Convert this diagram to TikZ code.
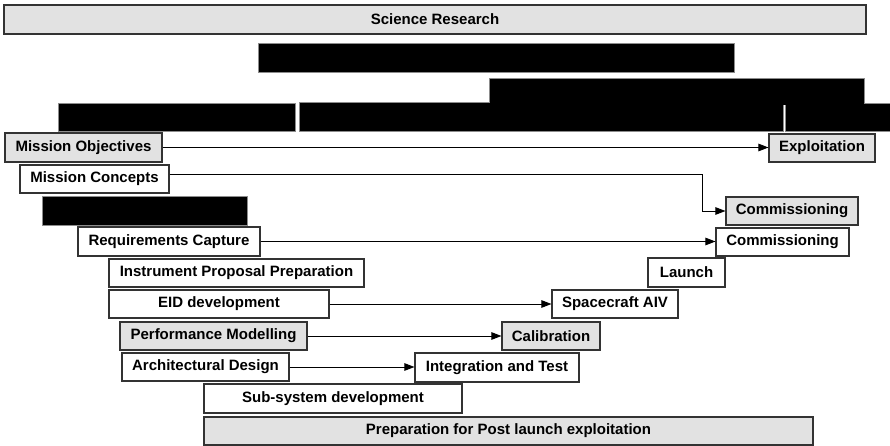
\documentclass[tikz,border=0pt]{standalone}
\usepackage{fontspec}
\setmainfont{Liberation Sans}
\usetikzlibrary{arrows.meta, positioning}
\definecolor{stone}{HTML}{E2E2E2}
\definecolor{edge}{HTML}{333333}
\definecolor{bargray}{HTML}{8C8C8C}

\begin{document}
\begin{tikzpicture}[x=1pt, y=-1pt,
  phase/.style={draw=edge, line width=1.1pt, fill=white, inner sep=0pt,
    font=\fontsize{15}{18}\selectfont\bfseries},
  stonebox/.style={phase, fill=stone},
  hidden/.style={draw=bargray, line width=0.8pt, fill=black, inner sep=0pt},
  flow/.style={black, line width=0.9pt, -{Triangle[length=10pt, width=7.5pt]}}]

% Canvas
\fill[white] (0,0) rectangle (890,446);
\useasboundingbox (0,0) rectangle (890,446);

% Top band
\node[stonebox, minimum width=862, minimum height=29] (sci) at (435,19.5) {Science Research};

% Blacked-out rows
\node[hidden, minimum width=476, minimum height=29] (hidA) at (496,57.5) {};
\node[hidden, minimum width=375, minimum height=26] (hidB) at (676.5,91) {};
\node[hidden, minimum width=237, minimum height=28] (hidC) at (176.5,117) {};
\node[hidden, minimum width=484, minimum height=29] (hidD) at (541,116.5) {};
\node[hidden, minimum width=106, minimum height=28] (hidE) at (838,117) {};
% join the upper bar into the row below it
\fill[black] (490,100) rectangle (863.5,105.5);

% Left leg of the V
\node[stonebox, minimum width=157, minimum height=29] (mobj) at (83.5,147.5) {Mission Objectives};
\node[phase, minimum width=149, minimum height=28] (mcon) at (94.5,179) {Mission Concepts};
\node[hidden, minimum width=205, minimum height=29] (hidF) at (144.5,210.5) {};
\node[phase, minimum width=182, minimum height=29] (req) at (169,241.5) {Requirements Capture};
\node[phase, minimum width=255, minimum height=28] (ipp) at (236.5,273) {Instrument Proposal Preparation};
\node[phase, minimum width=220, minimum height=28] (eid) at (219,304) {EID development};
\node[stonebox, minimum width=187, minimum height=28] (perf) at (213.5,336) {Performance Modelling};
\node[phase, minimum width=167, minimum height=28] (arch) at (205.5,367) {Architectural Design};
\node[phase, minimum width=258, minimum height=29] (subs) at (333,398.5) {Sub-system development};
\node[stonebox, minimum width=609, minimum height=28] (prep) at (508.5,431) {Preparation for Post launch exploitation};

% Right leg of the V
\node[stonebox, minimum width=106, minimum height=28] (expl) at (822,148) {Exploitation};
\node[stonebox, minimum width=132, minimum height=28] (comg) at (792,211) {Commissioning};
\node[phase, minimum width=133, minimum height=28] (comw) at (782.5,242) {Commissioning};
\node[phase, minimum width=77, minimum height=29] (launch) at (686.5,272.5) {Launch};
\node[phase, minimum width=126, minimum height=28] (aiv) at (615,304) {Spacecraft AIV};
\node[stonebox, minimum width=98, minimum height=28] (calib) at (551,336) {Calibration};
\node[phase, minimum width=164, minimum height=29] (intg) at (497,367.5) {Integration and Test};

% Links across the V
\draw[flow] (mobj.east) -- (mobj.east -| expl.west);
\draw[flow] ([yshift=5pt]mcon.east) -| ([xshift=-23pt]comg.west) -- (comg.west);
\draw[flow] (req.east) -- (req.east -| comw.west);
\draw[flow] (eid.east) -- (eid.east -| aiv.west);
\draw[flow] (perf.east) -- (perf.east -| calib.west);
\draw[flow] (arch.east) -- (arch.east -| intg.west);

\end{tikzpicture}
\end{document}
